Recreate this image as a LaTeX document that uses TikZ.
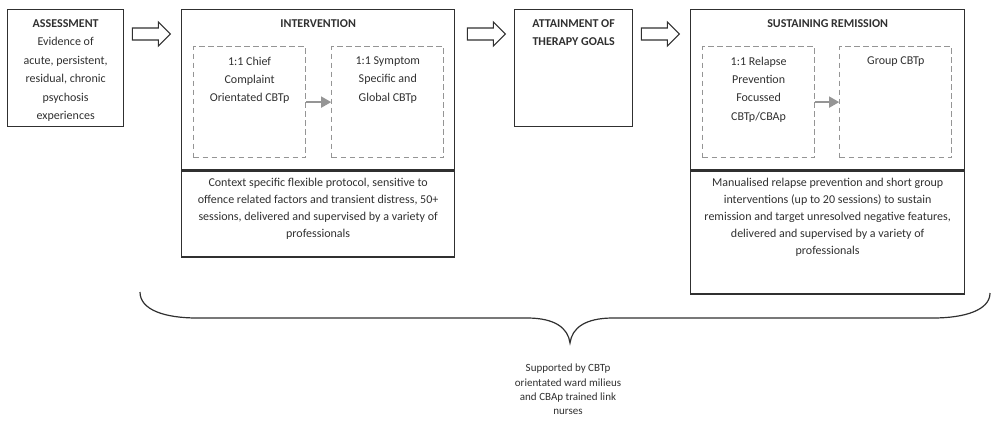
\documentclass[tikz,border=0pt]{standalone}
\usepackage{fontspec}
\setmainfont{Carlito}
\usetikzlibrary{calc}
\usetikzlibrary{positioning}
\usetikzlibrary{arrows.meta}
\definecolor{ink}{HTML}{303030}
\definecolor{dashgray}{HTML}{959595}

% hollow block arrow, starting at the middle of its tail
\newcommand{\hollowarrow}[1]{%
  \draw[blockarrow] #1 ++(0,-6) -- ++(26,0) -- ++(0,-6) -- ++(12,12)
    -- ++(-12,12) -- ++(0,-6) -- ++(-26,0) -- cycle;}

\begin{document}
\begin{tikzpicture}[x=1pt,y=-1pt]
	\tikzset{
		box/.style={draw=ink, line width=1.3pt, anchor=north west, inner sep=0pt},
		dbox/.style={draw=dashgray, line width=1.2pt, dash pattern=on 5.5pt off 3.5pt,
			anchor=north west, inner sep=0pt, minimum width=112pt, minimum height=111pt},
		txt/.style={text=ink, align=center, anchor=north, inner sep=0pt,
			font=\fontsize{12}{18.4}\selectfont},
		note/.style={txt, font=\fontsize{12}{17}\selectfont},
		foot/.style={txt, font=\fontsize{11}{14.3}\selectfont},
		blockarrow/.style={draw=ink, line width=1.1pt, fill=white},
		step arrow/.style={draw=dashgray, line width=1.4pt,
			-{Triangle[length=10pt,width=11pt]}},
		brace line/.style={draw=ink, line width=1.2pt}
	}
	\useasboundingbox (0,0) rectangle (992,425);

	% main boxes
	\node[box, minimum width=116pt, minimum height=117pt] (assess) at (7,9) {};
	\node[box, minimum width=273pt, minimum height=160pt] (interv) at (181,9) {};
	\node[box, minimum width=273pt, minimum height=86pt] (intervnote) at (interv.south west) {};
	\node[box, minimum width=118pt, minimum height=117pt] (attain) at (514,9) {};
	\node[box, minimum width=274pt, minimum height=160pt] (sustain) at (690,9) {};
	\node[box, minimum width=274pt, minimum height=123pt] (sustainnote) at (sustain.south west) {};

	% dashed sub boxes
	\node[dbox] (chief) at (193,46) {};
	\node[dbox, right=25pt of chief, anchor=west] (symptom) {};
	\node[dbox] (relapse) at (702,46) {};
	\node[dbox, right=24pt of relapse, anchor=west] (group) {};

	% texts
	\node[txt] at ($(assess.north)+(0,10.5)$) {\textbf{ASSESSMENT}\\Evidence of\\acute, persistent,\\residual, chronic\\psychosis\\experiences};
	\node[txt] at ($(interv.north)+(0,10.5)$) {\textbf{INTERVENTION}};
	\node[txt] at ($(chief.north)+(0,10.5)$) {1:1 Chief\\Complaint\\Orientated CBTp};
	\node[txt] at ($(symptom.north)+(0,10.5)$) {1:1 Symptom\\Specific and\\Global CBTp};
	\node[note] at ($(intervnote.north)+(0,8)$) {Context specific flexible protocol, sensitive to\\offence related factors and transient distress, 50+\\sessions, delivered and supervised by a variety of\\professionals};
	\node[txt] at ($(attain.north)+(0,10.5)$) {\textbf{ATTAINMENT OF}\\\textbf{THERAPY GOALS}};
	\node[txt] at ($(sustain.north)+(0,10.5)$) {\textbf{SUSTAINING REMISSION}};
	\node[txt] at ($(relapse.north)+(0,10.5)$) {1:1 Relapse\\Prevention\\Focussed\\CBTp/CBAp};
	\node[txt] at ($(group.north)+(0,10.5)$) {Group CBTp};
	\node[note] at ($(sustainnote.north)+(0,8)$) {Manualised relapse prevention and short group\\interventions (up to 20 sessions) to sustain\\remission and target unresolved negative features,\\delivered and supervised by a variety of\\professionals};

	% arrows between stages
	\hollowarrow{($(assess.north east)+(8,25)$)}
	\hollowarrow{($(interv.north east)+(12,25)$)}
	\hollowarrow{($(attain.north east)+(8,25)$)}
	\draw[step arrow] (chief.east) -- (symptom.west);
	\draw[step arrow] (relapse.east) -- (group.west);

	% brace under everything
	\coordinate (bl) at (140,292);
	\coordinate (br) at (990,293);
	\coordinate (tip) at (570,343);
	\draw[brace line] (bl) .. controls (140,310) and (165,318) .. (197,318) -- (527,318)
		.. controls (555,318) and (568,328) .. (tip)
		.. controls (572,328) and (585,318) .. (613,318) -- (933,318)
		.. controls (965,318) and (990,310) .. (br);
	\node[foot] at ($(tip)+(-2,21)$) {Supported by CBTp\\orientated ward milieus\\and CBAp trained link\\nurses};
\end{tikzpicture}
\end{document}
